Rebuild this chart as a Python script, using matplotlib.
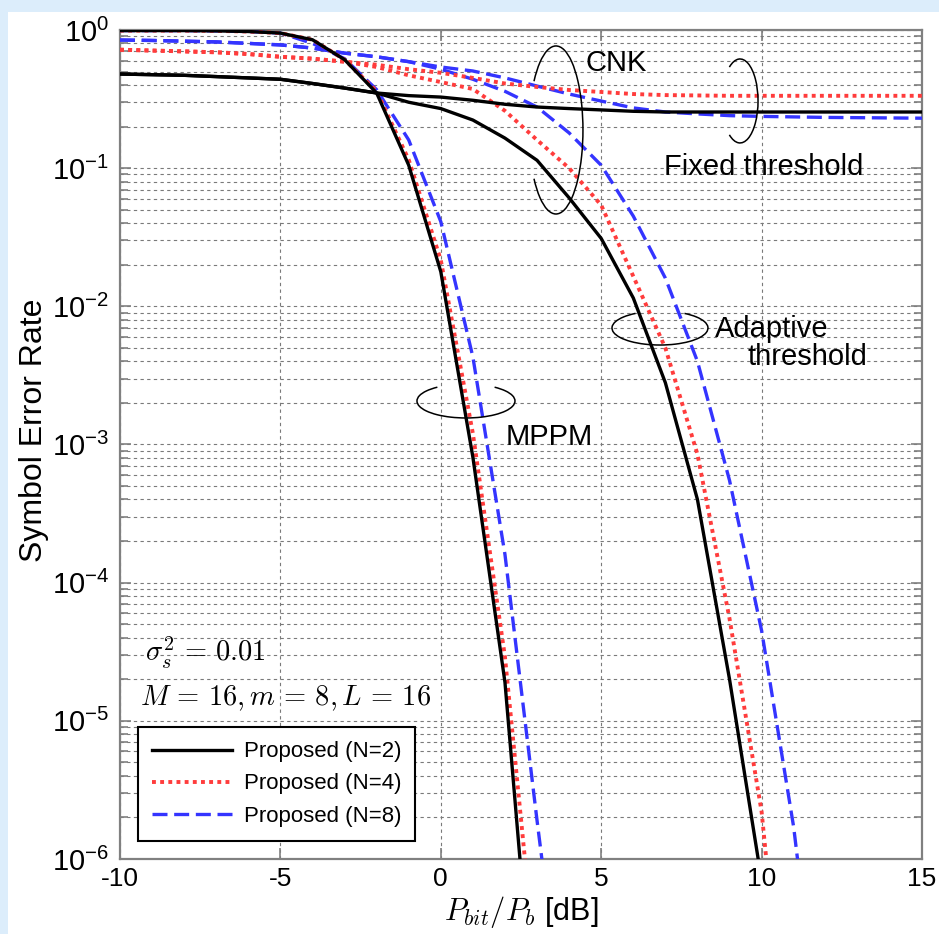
import matplotlib
matplotlib.use('Agg')
import matplotlib.pyplot as plt
from matplotlib.patches import Arc, Rectangle
from matplotlib.ticker import FixedLocator, NullFormatter, FuncFormatter
import numpy as np

plt.rcParams['font.family'] = ['Liberation Sans', 'DejaVu Sans']
plt.rcParams['mathtext.fontset'] = 'cm'

# ---------------- data ----------------
snr_mppm = [-10, -9, -8, -7, -6, -5, -4, -3, -2, -1, 0, 1, 2, 3, 4]
mppm_n2 = [0.99, 0.99, 0.99, 0.985, 0.975, 0.95, 0.85, 0.61, 0.35, 0.105, 0.0178, 8.1e-4, 1.9e-5, 3.5e-8, 1e-10]
mppm_n4 = [0.99, 0.99, 0.99, 0.985, 0.975, 0.95, 0.85, 0.61, 0.36, 0.115, 0.0216, 1.2e-3, 2.9e-5, 1.3e-7, 1e-9]
mppm_n8 = [0.99, 0.99, 0.99, 0.985, 0.975, 0.95, 0.80, 0.62, 0.37, 0.16, 0.041, 4.3e-3, 1.6e-4, 1.9e-6, 2.7e-8]

snr_adapt = [-10, -9, -8, -7, -6, -5, -4, -3, -2, -1, 0, 1, 2, 3, 4, 5, 6, 7, 8, 9, 10, 11, 12]
adapt_n2 = [0.48, 0.475, 0.47, 0.46, 0.45, 0.44, 0.41, 0.38, 0.35, 0.30, 0.27, 0.223, 0.165, 0.114, 0.061,
            0.031, 0.0115, 2.8e-3, 4.0e-4, 2.0e-5, 7e-7, 1e-8, 1e-10]
adapt_n4 = [0.72, 0.71, 0.70, 0.69, 0.67, 0.64, 0.62, 0.59, 0.54, 0.47, 0.42, 0.374, 0.26, 0.16, 0.10,
            0.054, 0.0165, 5.0e-3, 8.5e-4, 5.5e-5, 2.2e-6, 1e-8, 1e-10]
adapt_n8 = [0.846, 0.84, 0.83, 0.82, 0.80, 0.78, 0.74, 0.68, 0.64, 0.59, 0.52, 0.44, 0.36, 0.277, 0.18,
            0.105, 0.045, 0.016, 4.0e-3, 5.5e-4, 4.5e-5, 1.7e-6, 2e-8]

snr_fixed = [-10, -9, -8, -7, -6, -5, -4, -3, -2, -1, 0, 1, 2, 3, 4, 5, 6, 7, 8, 9, 10, 11, 12, 13, 14, 15]
fixed_n2 = [0.48, 0.475, 0.47, 0.46, 0.45, 0.44, 0.41, 0.38, 0.35, 0.335, 0.327, 0.31, 0.29, 0.277, 0.27,
            0.264, 0.258, 0.255, 0.255, 0.255, 0.255, 0.255, 0.255, 0.255, 0.255, 0.255]
fixed_n4 = [0.72, 0.71, 0.70, 0.69, 0.67, 0.64, 0.62, 0.59, 0.56, 0.52, 0.49, 0.45, 0.41, 0.387, 0.368,
            0.356, 0.344, 0.338, 0.336, 0.334, 0.334, 0.334, 0.334, 0.334, 0.334, 0.334]
fixed_n8 = [0.846, 0.84, 0.83, 0.82, 0.80, 0.78, 0.74, 0.68, 0.64, 0.59, 0.54, 0.505, 0.45, 0.393, 0.344,
            0.306, 0.273, 0.255, 0.247, 0.24, 0.237, 0.235, 0.233, 0.232, 0.231, 0.23]

legend_labels = ['Proposed (N=2)', 'Proposed (N=4)', 'Proposed (N=8)']
x_ticks = [-10, -5, 0, 5, 10, 15]
y_exps = [0, -1, -2, -3, -4, -5, -6]

# ---------------- style ----------------
c_black = 'black'
c_red = '#ff3c3c'
c_blue = '#3434ff'
ls_black = '-'
ls_red = (0, (1.0, 1.1))
ls_blue = (0, (4.5, 2.0))
lw = 2.4

fig = plt.figure(figsize=(9.39, 9.34), dpi=100)
fig.patch.set_facecolor('white')
W, H = 939.0, 934.0
fig.patches.append(Rectangle((0, 0), 8 / W, 1, transform=fig.transFigure,
                             facecolor='#dcedfb', edgecolor='none', zorder=0))
fig.patches.append(Rectangle((0, 1 - 12 / H), 1, 12 / H, transform=fig.transFigure,
                             facecolor='#dcedfb', edgecolor='none', zorder=0))

ax = fig.add_axes([120 / W, 1 - 859 / H, 802 / W, 829 / H])
ax.set_yscale('log')
ax.set_xlim(-10, 15)
ax.set_ylim(1e-6, 1)

# MPPM
ax.plot(snr_mppm, mppm_n2, color=c_black, ls=ls_black, lw=lw, label=legend_labels[0], zorder=5)
ax.plot(snr_mppm, mppm_n4, color=c_red, ls=ls_red, lw=lw + 0.4, label=legend_labels[1], zorder=4)
ax.plot(snr_mppm, mppm_n8, color=c_blue, ls=ls_blue, lw=lw, label=legend_labels[2], zorder=3)
# adaptive threshold
ax.plot(snr_adapt, adapt_n2, color=c_black, ls=ls_black, lw=lw, zorder=5)
ax.plot(snr_adapt, adapt_n4, color=c_red, ls=ls_red, lw=lw + 0.4, zorder=4)
ax.plot(snr_adapt, adapt_n8, color=c_blue, ls=ls_blue, lw=lw, zorder=3)
# fixed threshold
ax.plot(snr_fixed, fixed_n2, color=c_black, ls=ls_black, lw=lw, zorder=5)
ax.plot(snr_fixed, fixed_n4, color=c_red, ls=ls_red, lw=lw + 0.4, zorder=4)
ax.plot(snr_fixed, fixed_n8, color=c_blue, ls=ls_blue, lw=lw, zorder=3)

# ticks and grid
ax.xaxis.set_major_locator(FixedLocator(x_ticks))
ax.set_xticklabels([str(v) for v in x_ticks])
ax.yaxis.set_major_locator(FixedLocator([10.0 ** e for e in y_exps]))
ax.yaxis.set_major_formatter(FuncFormatter(lambda v, p: r'$\mathregular{10^{%d}}$' % int(round(np.log10(v)))))
minors = [m * 10.0 ** e for e in range(-6, 0) for m in range(2, 10)]
ax.yaxis.set_minor_locator(FixedLocator(minors))
ax.yaxis.set_minor_formatter(NullFormatter())

grid_kw = dict(color='#7a7a7a', lw=0.8, ls=(0, (3, 3)))
ax.grid(True, which='major', axis='both', **grid_kw)
ax.grid(True, which='minor', axis='y', **grid_kw)
ax.set_axisbelow(True)

for s in ax.spines.values():
    s.set_color('#808080')
    s.set_linewidth(1.6)
ax.tick_params(which='both', direction='in', top=True, right=True, color='#808080', width=1.2)
ax.tick_params(which='major', length=8)
ax.tick_params(which='minor', length=6)
ax.tick_params(axis='x', labelsize=19, pad=6)
ax.tick_params(axis='y', labelsize=21, pad=8)

ax.set_xlabel(r'$P_{bit}/P_b$ [dB]', fontsize=22, labelpad=2, math_fontfamily='cm')
ax.set_ylabel('Symbol Error Rate', fontsize=23)
ax.yaxis.set_label_coords(-0.088, 0.5175)

# annotations (baseline anchored)
txt_kw = dict(fontsize=21, ha='left', va='baseline')
ax.text(4.5, 0.505, 'CNK', **txt_kw)
ax.text(6.96, 0.0893, 'Fixed threshold', **txt_kw)
ax.text(8.55, 6.0e-3, 'Adaptive', **txt_kw)
ax.text(9.545, 3.77e-3, 'threshold', **txt_kw)
ax.text(2.03, 9.93e-4, 'MPPM', **txt_kw)
ax.text(-9.22, 2.67e-5, r'$\sigma_s^2 \,=\, 0.01$', fontsize=20.5, ha='left', va='baseline',
        math_fontfamily='cm')
ax.text(-9.38, 1.3e-5, r'$M \,=\, 16, m \,=\, 8, L \,=\, 16$', fontsize=20.5, ha='left',
        va='baseline', math_fontfamily='cm')

arc_kw = dict(transform=ax.transAxes, color='black', lw=1.1, zorder=6)
ax.add_patch(Arc((0.5436, 0.8794), 0.0673, 0.2027, theta1=-115, theta2=115, **arc_kw))
ax.add_patch(Arc((0.7731, 0.9144), 0.0449, 0.1013, theta1=-108, theta2=108, **arc_kw))
ax.add_patch(Arc((0.4314, 0.5525), 0.1222, 0.041, theta1=155, theta2=25, **arc_kw))
ax.add_patch(Arc((0.6733, 0.6405), 0.1197, 0.041, theta1=150, theta2=30, **arc_kw))

leg = ax.legend(loc='lower left', bbox_to_anchor=(0.0224, 0.0217), borderaxespad=0,
                fontsize=16, handlelength=3.6, handletextpad=0.5, labelspacing=0.5,
                fancybox=False, framealpha=1, edgecolor='black', borderpad=0.65)
leg.get_frame().set_linewidth(1.5)
leg.set_zorder(10)

fig.savefig('out.png', dpi=100, facecolor=fig.get_facecolor())
